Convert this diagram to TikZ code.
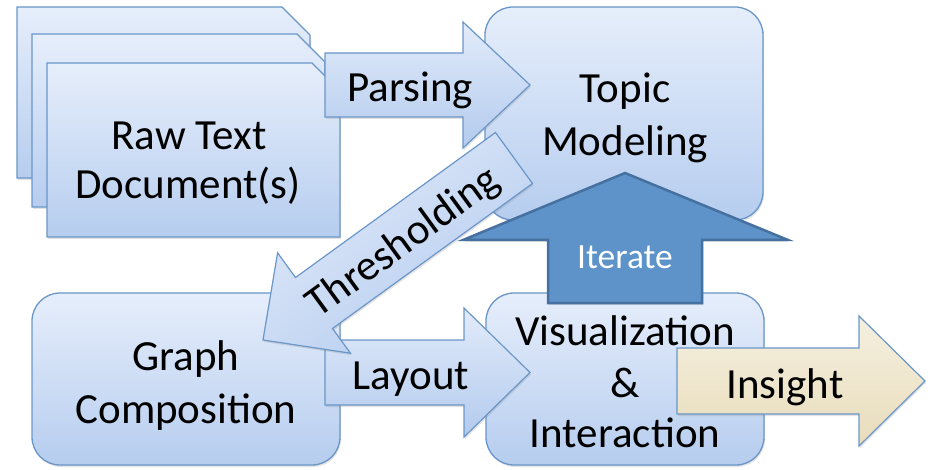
\documentclass[tikz,border=0pt]{standalone}
\usepackage{fontspec}
\setmainfont{Carlito}
\usetikzlibrary{shadows}
\definecolor{bordblue}{HTML}{6A96C8}
\definecolor{boxtop}{HTML}{E6EEFB}
\definecolor{boxbot}{HTML}{B6CDEF}
\definecolor{arrtop}{HTML}{E2EBFA}
\definecolor{arrbot}{HTML}{B3CBEE}
\definecolor{itfill}{HTML}{5D93C8}
\definecolor{itbord}{HTML}{45709F}
\definecolor{instop}{HTML}{F5F0E0}
\definecolor{insbot}{HTML}{E8DCBB}
\begin{document}
\begin{tikzpicture}[x=1pt,y=-1pt,
  shd/.style={drop shadow={opacity=0.22,shadow xshift=1pt,shadow yshift=-2pt}},
  docshape/.style={draw=bordblue,line width=1.3pt,top color=boxtop,bottom color=boxbot,shd},
  box/.style={draw=bordblue,line width=1.3pt,rounded corners=28pt,top color=boxtop,bottom color=boxbot,
    inner sep=0pt,shd},
  blockarr/.style={draw=bordblue,line width=1.2pt,top color=arrtop,bottom color=arrbot,line join=miter,shd},
  lbl/.style={anchor=base,inner sep=0pt,font=\fontsize{43}{50}\selectfont},
  itlbl/.style={anchor=base,inner sep=0pt,text=white,font=\fontsize{35.5}{42}\selectfont}]
\useasboundingbox (0,0) rectangle (934,470);
% stacked documents
\draw[docshape] (17,7) -- (282,7) -- (310,35) -- (310,178) -- (17,178) -- cycle;
\draw[docshape] (32,34) -- (297,34) -- (325,62) -- (325,207) -- (32,207) -- cycle;
\draw[docshape] (47,63) -- (312,63) -- (340,91) -- (340,237) -- (47,237) -- cycle;
\node[lbl] (raw1) at (189,150) {Raw Text};
\node[lbl] (raw2) at (188,199) {Document(s)};
% boxes
\node[box,minimum width=278pt,minimum height=213pt] (topic) at (624,113.5) {};
\node[box,minimum width=308pt,minimum height=172pt] (graph) at (186,379) {};
\node[box,minimum width=278pt,minimum height=172pt] (vis) at (625,379) {};
\node[lbl] (top1) at (625,103) {Topic};
\node[lbl] (top2) at (625,156) {Modeling};
\node[lbl] (gr1) at (186,370) {Graph};
\node[lbl] (gr2) at (186,423) {Composition};
% Parsing arrow
\draw[blockarr] (325,53) -- (463,53) -- (463,22) -- (530,85) -- (463,148) -- (463,117) -- (325,117) -- cycle;
\node[lbl] (parse) at (410,102) {Parsing};
% Layout arrow
\draw[blockarr] (325,340) -- (464,340) -- (464,308) -- (530,372.5) -- (464,437) -- (464,405) -- (325,405) -- cycle;
\node[lbl] (layout) at (411,389) {Layout};
% visualization text
\node[lbl] (vis1) at (625,345) {Visualization};
\node[lbl] (vis2) at (625,397) {\&};
\node[lbl] (vis3) at (625,447) {Interaction};
% Iterate arrow
\draw[draw=itbord,line width=2.5pt,fill=itfill,line join=miter,shd]
  (548,303) -- (548,240) -- (463,240) -- (625,173) -- (788,240) -- (702,240) -- (702,303) -- cycle;
\node[itlbl] (iter) at (625,269) {Iterate};
% Thresholding arrow
\draw[blockarr,shading angle=36] (495.5,132.5) -- (532.5,183.5) -- (332.5,328.5) -- (350.4,353.2) -- (263,340)
  -- (277.6,252.8) -- (295.5,277.5) -- cycle;
\node[inner sep=0pt,rotate=36,font=\fontsize{43}{50}\selectfont] (thr) at (404,243) {Thresholding};
% Insight arrow
\draw[draw=bordblue,line width=1.2pt,top color=instop,bottom color=insbot,line join=miter,shd]
  (677,348) -- (859,348) -- (859,316) -- (925,381) -- (859,446) -- (859,414) -- (677,414) -- cycle;
\node[lbl] (ins) at (785,398) {Insight};
\end{tikzpicture}
\end{document}
